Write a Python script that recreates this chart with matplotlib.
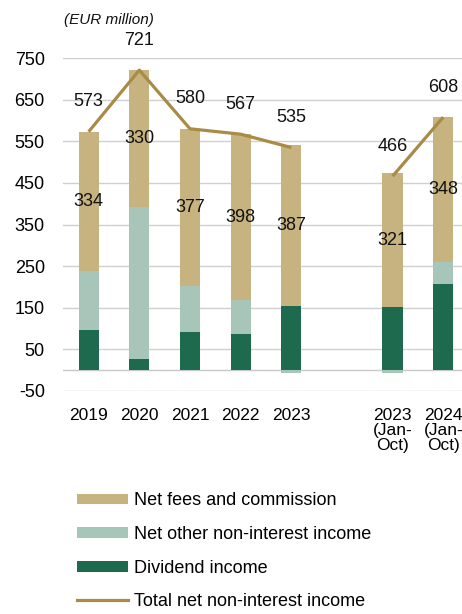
import matplotlib
matplotlib.use("Agg")
import matplotlib.pyplot as plt
from matplotlib.patches import Patch
from matplotlib.lines import Line2D
import numpy as np

categories = ["2019", "2020", "2021", "2022", "2023", "2023\n(Jan-\nOct)", "2024\n(Jan-\nOct)"]
positions = [0, 1, 2, 3, 4, 6, 7]
dividend = [96, 27, 92, 86, 154, 152, 208]
other = [143, 364, 111, 83, -6, -7, 52]
fees = [334, 330, 377, 398, 387, 321, 348]
total = [573, 721, 580, 567, 535, 466, 608]
yticks = [-50, 50, 150, 250, 350, 450, 550, 650, 750]

c_fees = "#c6b380"
c_other = "#a8c5ba"
c_div = "#1e6a4f"
c_line = "#a88c45"

plt.rcParams['font.family'] = ['Liberation Sans', 'DejaVu Sans']

fig = plt.figure(figsize=(4.62, 6.14), dpi=100)
ax = fig.add_axes([0.136, 0.3632, 0.864, 0.5423])

w = 0.4
pos = np.array(positions, dtype=float)
div = np.array(dividend, dtype=float)
oth = np.array(other, dtype=float)
fee = np.array(fees, dtype=float)

ax.bar(pos, div, w, color=c_div, zorder=3)
oth_bottom = np.where(oth >= 0, div, 0)
ax.bar(pos, oth, w, bottom=oth_bottom, color=c_other, zorder=3)
fee_bottom = div + np.clip(oth, 0, None)
ax.bar(pos, fee, w, bottom=fee_bottom, color=c_fees, zorder=3)

for x, b, f in zip(pos, fee_bottom, fee):
    ax.text(x, b + f / 2, f"{int(f)}", ha="center", va="center", fontsize=13, color="#111111", zorder=5)

ax.plot(pos[:5], total[:5], color=c_line, lw=2.3, zorder=4, solid_capstyle="butt")
ax.plot(pos[5:], total[5:], color=c_line, lw=2.3, zorder=4, solid_capstyle="butt")
for x, t in zip(pos, total):
    ax.annotate(f"{t}", (x, t), xytext=(0, 30), textcoords="offset pixels",
                ha="center", va="center", fontsize=13, color="#111111", zorder=5,
                annotation_clip=False)

ax.set_ylim(-50, 750)
ax.set_xlim(-0.51, 7.37)
ax.set_yticks(yticks)
ax.set_yticklabels([str(v) for v in yticks], fontsize=13)
ax.set_xticks(positions)
ax.set_xticklabels(categories, fontsize=12.5, linespacing=1.0)
ax.tick_params(axis="both", length=0)
ax.tick_params(axis="y", pad=13)
ax.tick_params(axis="x", pad=12)
ax.grid(axis="y", color="#d0d0d0", lw=1, zorder=0)
ax.axhline(0, color="#c8c8c8", lw=1, zorder=1)
for s in ax.spines.values():
    s.set_visible(False)

fig.text(0.139, 0.967, "(EUR million)", fontsize=11, style="italic", ha="left", va="center", color="#111111")

handles = [
    Patch(facecolor=c_fees, edgecolor="none", label="Net fees and commission"),
    Patch(facecolor=c_other, edgecolor="none", label="Net other non-interest income"),
    Patch(facecolor=c_div, edgecolor="none", label="Dividend income"),
    Line2D([0], [0], color=c_line, lw=2.3, label="Total net non-interest income"),
]
fig.legend(handles=handles, loc="upper left", bbox_to_anchor=(0.167, 0.198),
           frameon=False, fontsize=13, handlelength=2.8, handleheight=0.55,
           handletextpad=0.35, labelspacing=0.92, borderaxespad=0, borderpad=0)

fig.savefig("out.png", dpi=100)
